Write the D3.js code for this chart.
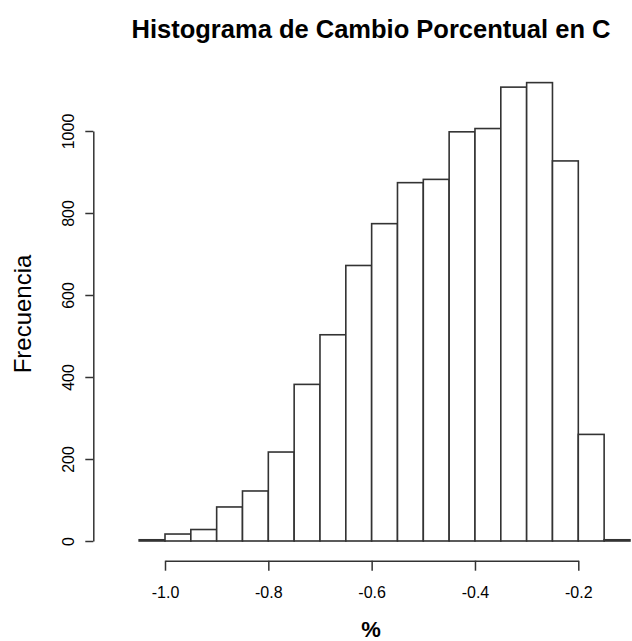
<!DOCTYPE html>
<html>
<head>
<meta charset="utf-8">
<script src="https://cdn.jsdelivr.net/npm/d3@7"></script>
<style>
  html, body { margin: 0; padding: 0; background: #fff; }
  svg text { font-family: "Liberation Sans", Arial, sans-serif; fill: #000; }
</style>
</head>
<body>
<div id="chart"></div>
<script>
// Histogram bins (left edges, width 0.05) and counts
const binStarts = [-1.05, -1.00, -0.95, -0.90, -0.85, -0.80, -0.75, -0.70, -0.65, -0.60,
                   -0.55, -0.50, -0.45, -0.40, -0.35, -0.30, -0.25, -0.20, -0.15];
const counts = [3, 17, 28, 83, 122, 217, 382, 503, 672, 774,
                874, 882, 998, 1006, 1107, 1118, 927, 260, 3];
const binWidth = 0.05;
const xTicks = [-1.0, -0.8, -0.6, -0.4, -0.2];
const yTicks = [0, 200, 400, 600, 800, 1000];

const W = 632, H = 641;

const svg = d3.select('#chart').append('svg')
  .attr('width', W)
  .attr('height', H);

const x = d3.scaleLinear().domain([-1.0, -0.2]).range([165, 578.3]);
const y = d3.scaleLinear().domain([0, 1000]).range([541, 131]);

// Bars
svg.append('g')
  .selectAll('rect')
  .data(binStarts.map((s, i) => ({ x0: s, x1: s + binWidth, n: counts[i] })))
  .join('rect')
  .attr('x', d => x(d.x0))
  .attr('width', d => x(d.x1) - x(d.x0))
  .attr('y', d => y(d.n))
  .attr('height', d => y(0) - y(d.n))
  .attr('fill', '#fff')
  .attr('stroke', '#333')
  .attr('stroke-width', 1.6);

// X axis
const xAxis = svg.append('g')
  .attr('transform', 'translate(0,560.7)')
  .call(d3.axisBottom(x).tickValues(xTicks).tickSize(10).tickSizeOuter(0)
    .tickFormat(d => d.toFixed(1)));
xAxis.selectAll('path, line').attr('stroke', '#333').attr('stroke-width', 1.5);
xAxis.selectAll('text')
  .attr('font-size', 16)
  .attr('y', 26)
  .attr('dy', '0.71em');

// Y axis
const yAxis = svg.append('g')
  .attr('transform', 'translate(93.3,0)')
  .call(d3.axisLeft(y).tickValues(yTicks).tickSize(8).tickSizeOuter(0)
    .tickFormat(d => String(d)));
yAxis.selectAll('path, line').attr('stroke', '#333').attr('stroke-width', 1.5);
yAxis.selectAll('text')
  .attr('font-size', 16)
  .attr('x', 0)
  .attr('dy', 0)
  .attr('text-anchor', 'middle')
  .attr('transform', 'translate(-19,0) rotate(-90)');

// Title and axis labels
svg.append('text')
  .attr('x', 371)
  .attr('y', 38)
  .attr('text-anchor', 'middle')
  .attr('font-size', 25.5)
  .attr('font-weight', 'bold')
  .text('Histograma de Cambio Porcentual en C');

svg.append('text')
  .attr('transform', 'translate(31,314) rotate(-90)')
  .attr('text-anchor', 'middle')
  .attr('font-size', 24)
  .text('Frecuencia');

svg.append('text')
  .attr('x', 371)
  .attr('y', 637)
  .attr('text-anchor', 'middle')
  .attr('font-size', 22)
  .attr('font-weight', 'bold')
  .text('%');
</script>
</body>
</html>
